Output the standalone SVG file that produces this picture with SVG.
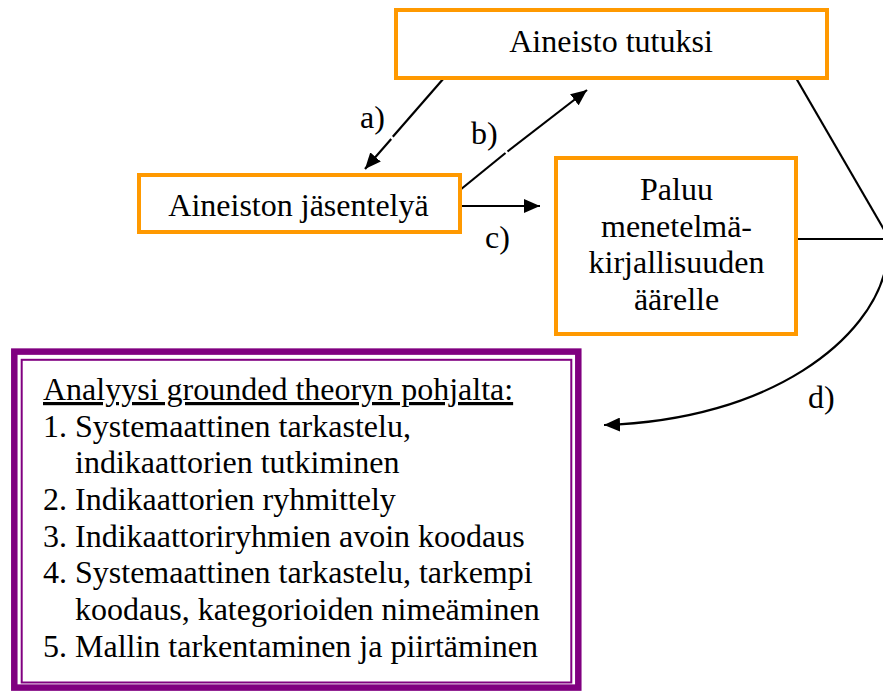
<svg xmlns="http://www.w3.org/2000/svg" width="883" height="691" viewBox="0 0 883 691">
<style>
.node{fill:#fff;stroke:#FF9900;stroke-width:4}
.t{font-family:'Liberation Serif','Times New Roman','DejaVu Serif',serif;font-size:32px;fill:#000}
.c{text-anchor:middle}
.ln{fill:none;stroke:#000;stroke-width:2.2}
</style>
<defs>
<marker id="ah" markerUnits="userSpaceOnUse" markerWidth="16" markerHeight="14" refX="16" refY="7" orient="auto">
<path d="M0,0 L16,7 L0,14 Z" fill="#000"/>
</marker>
</defs>
<rect width="883" height="691" fill="#fff"/>
<g id="connectors">
<path class="ln" d="M444,78 L392.8,136.8"/>
<path class="ln" d="M391.2,139 L365,169" marker-end="url(#ah)"/>
<path class="ln" d="M460,190 L505.5,153"/>
<path class="ln" d="M507.5,151.5 L587,90" marker-end="url(#ah)"/>
<path class="ln" d="M461,206 L540,206" marker-end="url(#ah)"/>
<path class="ln" d="M796,78 L886,233"/>
<path class="ln" d="M798,239 L886,239"/>
<path class="ln" d="M886,266 C872,338 772,420 604,425" marker-end="url(#ah)"/>
<text class="t" x="360" y="128" font-family="Liberation Serif, serif">a)</text>
<text class="t" x="471" y="144">b)</text>
<text class="t" x="485" y="248">c)</text>
<text class="t" x="808" y="408">d)</text>
</g>
<g id="aineisto-tutuksi">
<rect class="node" x="396" y="10" width="431" height="68"/>
<text class="t c" x="611" y="52">Aineisto tutuksi</text>
</g>
<g id="aineiston-jasentelya">
<rect class="node" x="139" y="175" width="321" height="57"/>
<text class="t c" x="298.5" y="216">Aineiston jäsentelyä</text>
</g>
<g id="paluu">
<rect class="node" x="556" y="158" width="240" height="176"/>
<text class="t c" x="676.5" y="200">Paluu</text>
<text class="t c" x="676.5" y="236.7">menetelmä-</text>
<text class="t c" x="676.5" y="273.3">kirjallisuuden</text>
<text class="t c" x="676.5" y="310">äärelle</text>
</g>
<g id="analyysi">
<rect x="14.3" y="351.6" width="564" height="336" fill="#fff" stroke="#800080" stroke-width="6.5"/>
<rect x="21.7" y="359.8" width="549.6" height="322.7" fill="none" stroke="#800080" stroke-width="2"/>
<text class="t" x="43" y="400" text-decoration="underline">Analyysi grounded theoryn pohjalta:</text>
<text class="t" x="43" y="436.7">1.</text>
<text class="t" x="75" y="436.7">Systemaattinen tarkastelu,</text>
<text class="t" x="75" y="473.3">indikaattorien tutkiminen</text>
<text class="t" x="43" y="510">2.</text>
<text class="t" x="75" y="510">Indikaattorien ryhmittely</text>
<text class="t" x="43" y="546.7">3.</text>
<text class="t" x="75" y="546.7">Indikaattoriryhmien avoin koodaus</text>
<text class="t" x="43" y="583.3">4.</text>
<text class="t" x="75" y="583.3">Systemaattinen tarkastelu, tarkempi</text>
<text class="t" x="75" y="620">koodaus, kategorioiden nimeäminen</text>
<text class="t" x="43" y="656.7">5.</text>
<text class="t" x="75" y="656.7">Mallin tarkentaminen ja piirtäminen</text>
</g>
</svg>
